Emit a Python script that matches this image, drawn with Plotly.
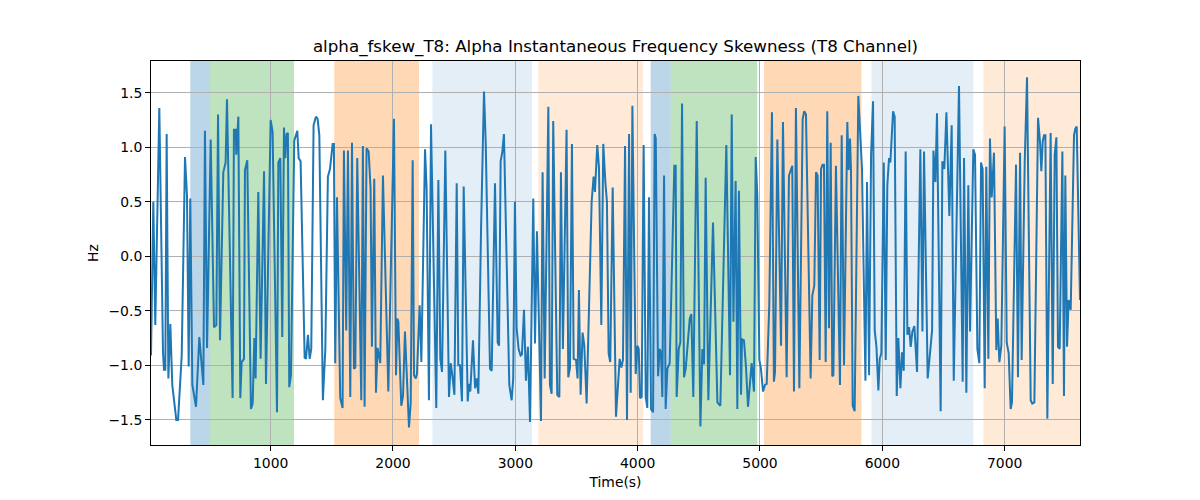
import plotly.graph_objects as go

# time (s) and skewness (Hz)
time_s = [
    22, 41, 57, 90, 120, 128, 139, 150, 164, 180, 196, 229, 243, 273, 300, 316, 330, 343, 360, 390,
    417, 436, 450, 463, 480, 510, 537, 556, 570, 586, 613, 632, 643, 689, 700, 714, 719, 736, 752, 763,
    782, 790, 809, 839, 853, 867, 877, 899, 918, 946, 962,
    1000, 1016, 1052, 1063, 1079, 1095, 1109, 1120, 1131, 1141, 1152, 1166, 1193, 1218, 1229, 1245,
    1278, 1289, 1305, 1319, 1332, 1351, 1370, 1384, 1398, 1427, 1447, 1468, 1485, 1507, 1517, 1528,
    1542, 1569, 1588, 1599, 1618, 1632, 1651, 1665, 1681, 1692, 1708, 1741, 1754, 1768, 1784, 1801,
    1817, 1828, 1847, 1861, 1874, 1896, 1918,
    1962, 2008, 2025, 2036, 2044, 2068, 2082, 2098, 2131, 2145, 2161, 2172, 2186, 2196, 2218, 2232,
    2262, 2275, 2294, 2311, 2354, 2371, 2387, 2401, 2428, 2458, 2472, 2485, 2502, 2521, 2534, 2548,
    2564, 2578, 2611, 2621, 2632, 2654, 2671, 2684, 2698, 2720, 2744, 2758, 2793, 2807, 2834, 2856,
    2867, 2880, 2894,
    2907, 2951, 2970, 2983, 2997, 3011, 3027, 3043, 3054, 3071, 3087, 3103, 3120, 3147, 3161, 3177,
    3210, 3223, 3240, 3270, 3283, 3297, 3310, 3343, 3360, 3373, 3389, 3419, 3433, 3447, 3463, 3477,
    3496, 3509, 3520, 3534, 3550, 3564, 3583, 3624, 3640, 3651, 3670, 3684, 3703, 3719, 3736, 3749,
    3763, 3776, 3796, 3823,
    3853, 3867, 3880, 3897, 3913, 3930, 3943, 3957, 3984, 3998, 4009, 4019, 4033, 4049, 4066, 4079,
    4093, 4109, 4126, 4139, 4148, 4167, 4180, 4191, 4202, 4216, 4229, 4243, 4262, 4300, 4311, 4319,
    4336, 4349, 4363, 4379, 4393, 4412, 4426, 4439, 4455, 4483, 4513, 4529, 4543, 4556, 4578, 4616,
    4652, 4676, 4725, 4755, 4769, 4783, 4801,
    4815, 4828, 4845, 4853, 4869, 4886, 4902, 4918, 4932, 4951, 4965, 4978, 4995, 5008, 5025, 5041,
    5055, 5076, 5098, 5114, 5123, 5142, 5172, 5188, 5218, 5237, 5251, 5264, 5278, 5294, 5322, 5349,
    5362, 5376, 5414, 5428, 5444, 5458, 5471, 5488, 5499, 5512, 5523, 5537, 5550, 5564, 5578, 5591,
    5600, 5621, 5654, 5668, 5687, 5714, 5725, 5736, 5744, 5758,
    5774, 5804, 5834, 5862, 5875, 5892, 5908, 5924, 5938, 5952, 5968, 5979, 5992, 6012, 6028, 6041,
    6055, 6066, 6088, 6101, 6118, 6131, 6148, 6161, 6175, 6191, 6205, 6219, 6232, 6246, 6262, 6284,
    6311, 6328, 6341, 6371, 6407, 6418, 6434, 6447, 6477, 6491, 6507, 6524, 6548, 6567, 6584, 6606,
    6627, 6657, 6668, 6687, 6703, 6717,
    6744, 6758, 6777, 6793, 6807, 6820, 6837, 6850, 6867, 6880, 6894, 6913, 6932, 6943, 6957, 6973,
    7000, 7017, 7033, 7049, 7060, 7093, 7109, 7126, 7139, 7164, 7183, 7213, 7226, 7243, 7273, 7289,
    7300, 7311, 7322, 7333, 7349, 7376, 7393, 7409, 7423, 7436, 7450, 7472, 7485, 7496, 7510, 7523,
    7540, 7567, 7578, 7589, 7616,
]

fskew_hz = [
    -0.91, 0.50, -0.63, 1.36, -0.88, -1.04, -1.04, 1.12, -1.12, -0.62, -1.18, -1.50, -1.50, -0.91, 0.91, 0.56, -1.01, 0.53, -1.18, -1.38,
    -0.74, -1.01, -1.18, 1.15, -0.84, 1.07, -0.65, -0.63, 1.30, -0.77, 0.77, 0.86, 1.44, -1.30, 1.16, 1.16, 0.93, 1.28, -1.30, -0.97,
    -0.94, 0.79, 0.88, -1.40, -1.35, -0.75, -1.12, 0.59, -0.94, 0.78, -1.17,
    1.25, 1.14, -1.43, 0.86, 0.90, -0.74, 1.18, 0.90, 1.12, 1.13, -1.20, -1.09, 1.06, 1.15, 0.90, 0.87,
    -0.93, -0.94, -0.72, -0.94, -0.85, 1.20, 1.28, 1.26, 1.11, -1.32, -0.85, 0.73, 0.80, 1.03, 1.03, -0.98,
    0.54, -1.30, -1.39, 0.97, -0.68, 0.97, -1.29, 1.04, -1.03, -1.02, 0.90, -1.32, 1.01, -1.38, 0.99, 0.96,
    0.62, -0.83, 0.71, -1.25, -0.84, -0.98, 0.74,
    -1.24, 1.26, -1.09, -0.57, -0.60, -1.37, -1.28, -0.69, -1.57, -1.34, 0.88, -1.09, -1.12, -1.08, -0.45, -0.97,
    0.98, 0.62, -1.32, 1.21, -1.39, 0.70, -0.94, -1.06, 0.97, -1.29, -0.98, -1.09, -1.27, 0.67, -1.00, -1.00,
    -1.33, 0.64, -1.33, -1.17, -1.24, -0.77, -1.21, -1.12, -1.26, 0.25, 1.51, 1.05, -1.03, -1.05, 0.67, -0.79,
    -0.82, 0.87, 0.96,
    1.12, -1.18, -1.32, -1.12, 0.50, -0.66, -0.85, -0.91, -0.90, -0.49, -1.14, -0.83, -1.52, 0.53, -0.80, 0.23,
    -1.51, 0.77, -1.12, 1.37, -1.18, -1.26, 1.24, -1.27, -1.29, 0.77, -0.85, 1.16, -1.11, -1.02, 1.03, -0.94,
    -0.95, -1.12, -0.31, -1.27, -0.70, -0.82, -1.35, 0.50, 0.73, 0.59, 1.02, 0.81, -0.63, 1.03, 0.68, 0.50,
    -0.89, -0.97, 0.63, -1.47,
    -0.94, -1.02, -0.95, 1.01, -1.50, 1.12, -1.25, 1.38, -1.08, -0.82, -0.85, -1.30, -1.29, 1.02, -1.29, -1.39,
    0.54, -1.40, -1.43, 1.12, 1.08, -1.10, -0.85, -0.88, -1.29, 0.74, -1.40, -1.03, -0.98, 0.83, 0.83, -1.29,
    -0.85, -0.79, 1.40, -1.11, -1.03, -0.72, -0.57, -0.53, -1.29, 1.24, -1.56, -0.85, -0.99, 0.72, -1.32, 0.31,
    -1.34, -1.37, 1.02, -1.09, 1.30, -0.60, 0.69,
    -1.40, 0.60, -1.27, -0.76, -0.77, -1.02, -1.38, -1.17, -0.98, -1.24, 0.91, 0.56, -0.95, -1.03, -1.24, -1.18,
    -1.17, -0.45, 1.32, -1.15, -1.06, 1.07, -0.82, 1.23, -1.11, 0.74, 0.80, 0.83, -1.24, 1.36, -1.21, 1.26,
    1.33, 1.30, -1.12, -0.36, -0.27, 0.77, 0.74, -0.95, 0.80, 0.84, 0.84, -0.97, 1.33, -0.66, 1.04, -1.10,
    -1.09, 0.83, -1.18, 1.11, -1.00, 1.23, 0.79, 1.08, 0.79, -1.37,
    -1.42, 1.47, 0.80, -1.14, 0.68, -1.09, 0.92, 1.42, -0.68, -0.83, -1.23, -0.94, -0.89, 0.86, -0.95, 0.65,
    0.90, 0.86, 1.33, 1.28, -1.28, -0.75, -1.21, -0.88, -1.05, 0.96, -0.72, -0.65, -0.83, -0.69, -0.64, -1.06,
    0.98, -0.69, 0.96, -1.12, -0.68, 0.97, 0.68, 1.31, -1.42, 0.87, 0.80, 1.32, 0.37, 1.20, -1.14, 0.31,
    1.56, -1.15, 0.90, -1.25, 0.65, -0.69,
    0.98, 0.93, -0.85, -0.98, 0.86, 0.80, -1.21, 0.82, -0.94, 1.08, 0.54, 0.95, -0.86, -0.57, -0.97, -0.82,
    1.19, -0.79, -0.89, -1.40, -1.34, 0.84, -1.11, 0.95, -0.95, 0.86, 1.64, -1.32, -1.35, -1.34, 1.27, 1.05,
    0.78, 1.05, 1.11, 1.11, -1.49, 1.13, -1.17, 0.93, 1.09, -0.83, -0.85, 0.96, -1.28, 0.74, -0.83, -0.40,
    -0.49, 1.11, 1.17, 1.19, -0.40,
]

# shaded segments (start, end, kind)
band_start = [343, 504, 1520, 2322, 3188, 4107, 4270, 5033, 5911, 6826]
band_end = [504, 1191, 2213, 3136, 4044, 4270, 4978, 5829, 6744, 7616]
band_kind = ["blue", "green", "orange", "lightblue", "lightorange",
             "blue", "green", "orange", "lightblue", "lightorange"]

band_fill = {
    "blue": "rgba(31,119,180,0.3)",
    "green": "rgba(44,160,44,0.3)",
    "orange": "rgba(255,127,14,0.3)",
    "lightblue": "rgba(31,119,180,0.12)",
    "lightorange": "rgba(255,127,14,0.16)",
}

x_ticks = [1000, 2000, 3000, 4000, 5000, 6000, 7000]
y_ticks = [-1.5, -1.0, -0.5, 0.0, 0.5, 1.0, 1.5]

fig = go.Figure()

for s, e, k in zip(band_start, band_end, band_kind):
    fig.add_vrect(x0=s, x1=e, fillcolor=band_fill[k], line_width=0, layer="below")

fig.add_trace(go.Scatter(x=time_s, y=fskew_hz, mode="lines",
                         line=dict(color="#1f77b4", width=2), showlegend=False))

# the page body adds an 8px offset, so margins are shifted to compensate
fig.update_layout(
    width=1200, height=500,
    margin=dict(l=143, r=128, t=53, b=63),
    paper_bgcolor="white", plot_bgcolor="white",
    font=dict(family="DejaVu Sans", size=13.9, color="black"),
    title=dict(text="alpha_fskew_T8: Alpha Instantaneous Frequency Skewness (T8 Channel)",
               x=0.5, xref="paper", y=1 - 38 / 500, yanchor="middle",
               font=dict(size=16.7, color="black")),
)

fig.update_xaxes(
    range=[22, 7616], tickvals=x_ticks, ticks="outside", ticklen=5, tickcolor="black",
    showline=True, linecolor="black", linewidth=1, mirror=True,
    showgrid=True, gridcolor="#b0b0b0", gridwidth=1, zeroline=False,
    title=dict(text="Time(s)", standoff=7, font=dict(size=13.9)),
)
fig.update_yaxes(
    range=[-1.73, 1.79], tickvals=y_ticks, tickformat=".1f", ticks="outside", ticklen=5,
    tickcolor="black", showline=True, linecolor="black", linewidth=1, mirror=True,
    showgrid=True, gridcolor="#b0b0b0", gridwidth=1, zeroline=False,
    title=dict(text="Hz", standoff=6, font=dict(size=13.9)),
)

fig.write_html("out.html")
